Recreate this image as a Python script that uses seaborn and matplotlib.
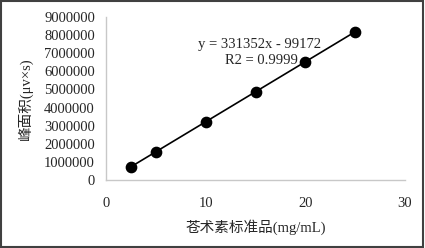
import seaborn as sns
import pandas as pd
import numpy as np
import matplotlib.pyplot as plt
from matplotlib.patches import Rectangle

# concentraciones y areas de pico
conc = [2.5, 5, 10, 15, 20, 25]
area = [730000, 1560000, 3210000, 4870000, 6530000, 8185000]
x_ticks = [0, 10, 20, 30]
y_ticks = [0, 1000000, 2000000, 3000000, 4000000, 5000000, 6000000, 7000000, 8000000, 9000000]

df = pd.DataFrame({'conc': conc, 'area': area})

sns.set_style('white')
plt.rcParams['font.family'] = ['Liberation Serif', 'Noto Sans CJK SC']

fig = plt.figure(figsize=(4.25, 2.48), dpi=100)
ax = fig.add_axes([106 / 425, 1 - 180 / 248, 299 / 425, 163 / 248])

sns.regplot(x='conc', y='area', data=df, ci=None, truncate=True, ax=ax,
            scatter_kws={'s': 55, 'color': 'black', 'alpha': 1, 'edgecolor': 'black', 'zorder': 3},
            line_kws={'color': 'black', 'linewidth': 1.2})

ax.set_xlim(0, 30)
ax.set_ylim(0, 9000000)
ax.set_xticks(x_ticks)
ax.set_yticks(y_ticks)
ax.ticklabel_format(style='plain', axis='y')
ax.tick_params(labelsize=10.5, length=0)
ax.tick_params(axis='x', pad=12)
ax.tick_params(axis='y', pad=8)
for s in ['top', 'right']:
    ax.spines[s].set_visible(False)
for s in ['left', 'bottom']:
    ax.spines[s].set_color('#c8c8c8')
    ax.spines[s].set_linewidth(1)

ax.set_xlabel('苍术素标准品(mg/mL)', fontsize=10.5, labelpad=7)
ax.set_ylabel('峰面积(μv×s)', fontsize=10.5, labelpad=8)

ax.text(15.4, 7500000, 'y = 331352x - 99172', fontsize=10.5, ha='center', va='center')
ax.text(15.6, 6620000, 'R2 = 0.9999', fontsize=10.5, ha='center', va='center')

# marco exterior
fig.patches.append(Rectangle((0.003, 0.004), 0.993, 0.991, transform=fig.transFigure,
                             fill=False, edgecolor='#404040', linewidth=1.5))

plt.savefig('out.png', dpi=100)
